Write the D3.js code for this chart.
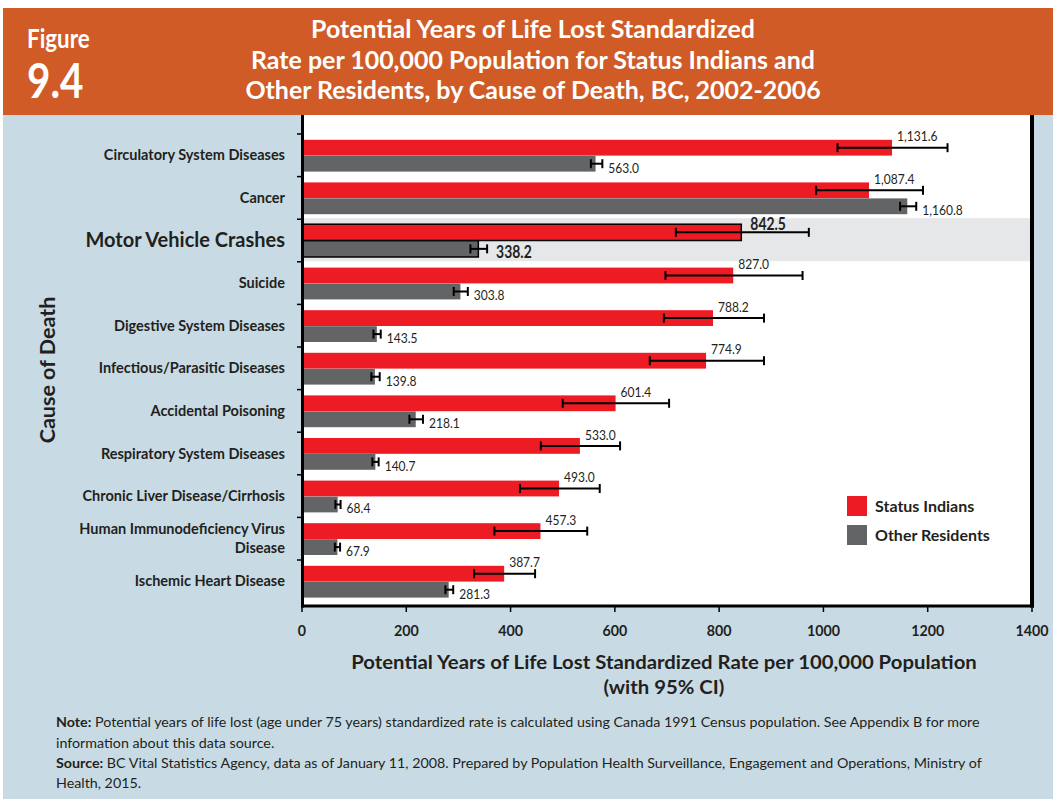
<!DOCTYPE html>
<html>
<head>
<meta charset="utf-8">
<script src="https://cdn.jsdelivr.net/npm/d3@7"></script>
<style>
  html, body { margin: 0; padding: 0; background: #ffffff; }
  svg { display: block; }
  text { font-family: Lato, "Open Sans", sans-serif; }
</style>
</head>
<body>
<svg id="chart" width="1053" height="799"></svg>
<script>
// Causes of death, top to bottom
const categories = [
  "Circulatory System Diseases",
  "Cancer",
  "Motor Vehicle Crashes",
  "Suicide",
  "Digestive System Diseases",
  "Infectious/Parasitic Diseases",
  "Accidental Poisoning",
  "Respiratory System Diseases",
  "Chronic Liver Disease/Cirrhosis",
  "Human Immunodeficiency Virus Disease",
  "Ischemic Heart Disease"
];
// Display lines for each category label
const categoryLines = [
  ["Circulatory System Diseases"],
  ["Cancer"],
  ["Motor Vehicle Crashes"],
  ["Suicide"],
  ["Digestive System Diseases"],
  ["Infectious/Parasitic Diseases"],
  ["Accidental Poisoning"],
  ["Respiratory System Diseases"],
  ["Chronic Liver Disease/Cirrhosis"],
  ["Human Immunodeficiency Virus", "Disease"],
  ["Ischemic Heart Disease"]
];
const highlighted = "Motor Vehicle Crashes";

// PYLL standardized rate per 100,000
const statusIndians   = [1131.6, 1087.4, 842.5, 827.0, 788.2, 774.9, 601.4, 533.0, 493.0, 457.3, 387.7];
const otherResidents  = [563.0, 1160.8, 338.2, 303.8, 143.5, 139.8, 218.1, 140.7, 68.4, 67.9, 281.3];
// 95% confidence intervals
const statusLow   = [1027, 986, 717, 697, 694, 667, 500, 458, 418, 369, 330];
const statusHigh  = [1238, 1191, 972, 960, 886, 886, 704, 610, 571, 547, 447];
const otherLow    = [554, 1147, 323, 291, 137, 133, 206, 135, 64, 63, 275];
const otherHigh   = [576, 1178, 355, 318, 151, 149, 232, 147, 74, 73, 290];

const seriesNames = ["Status Indians", "Other Residents"];
const xTicks = [0, 200, 400, 600, 800, 1000, 1200, 1400];

const RED = "#ED1C24", GREY = "#636466", INK = "#231F20";

const svg = d3.select("#chart");

// ---- page background and header band ----
svg.append("rect").attr("x", 3).attr("y", 115).attr("width", 1050).attr("height", 684).attr("fill", "#C8DBE4");
svg.append("rect").attr("x", 3).attr("y", 8).attr("width", 1050).attr("height", 107).attr("fill", "#D05B27");

function squeezed(g, x, y, sx, txt) {
  return g.append("text").attr("transform", `translate(${x},${y}) scale(${sx},1)`).text(txt);
}

const head = svg.append("g").attr("fill", "#ffffff").attr("font-weight", 700);
squeezed(head, 27, 48, 0.86, "Figure").attr("font-size", 26);
squeezed(head, 27, 98, 0.86, "9.4").attr("font-size", 47);
const titleLines = [
  "Potential Years of Life Lost Standardized",
  "Rate per 100,000 Population for Status Indians and",
  "Other Residents, by Cause of Death, BC, 2002-2006"
];
titleLines.forEach((t, i) => {
  squeezed(head, 533, 38 + i * 30.5, 1.04, t).attr("font-size", 24).attr("text-anchor", "middle");
});

// ---- scales ----
const x = d3.scaleLinear().domain([0, 1400]).range([302, 1032]);
const y = d3.scaleBand().domain(categories).range([134, 134 + 11 * 42.6]).padding(0);

// plot area
svg.append("rect").attr("x", 303).attr("y", 115).attr("width", 728).attr("height", 491).attr("fill", "#ffffff");
svg.append("rect").attr("x", 304).attr("y", y(highlighted) - 1).attr("width", 726).attr("height", 43).attr("fill", "#E6E7E8");

// ---- bars ----
const rows = categories.map((c, i) => ({
  cat: c, si: statusIndians[i], or: otherResidents[i],
  siLo: statusLow[i], siHi: statusHigh[i], orLo: otherLow[i], orHi: otherHigh[i],
  hl: c === highlighted
}));

const barG = svg.append("g");
const redTop = d => y(d.cat) + (d.hl ? 5 : 5.8);
const greyTop = d => y(d.cat) + (d.hl ? 21.5 : 21.8);
const barH = d => d.hl ? 16.3 : 15.8;

barG.selectAll(".si").data(rows).join("rect")
  .attr("x", x(0)).attr("y", redTop)
  .attr("width", d => x(d.si) - x(0)).attr("height", barH)
  .attr("fill", RED)
  .attr("stroke", d => d.hl ? "#000" : "none").attr("stroke-width", 1.5);
barG.selectAll(".or").data(rows).join("rect")
  .attr("x", x(0)).attr("y", greyTop)
  .attr("width", d => x(d.or) - x(0)).attr("height", barH)
  .attr("fill", GREY)
  .attr("stroke", d => d.hl ? "#000" : "none").attr("stroke-width", 1.5);

// ---- error bars (95% CI) ----
function errorBars(acc) {
  const g = svg.append("g").attr("stroke", "#000").attr("stroke-width", 2);
  rows.forEach(d => {
    const [lo, hi, cy] = acc(d);
    g.append("line").attr("x1", x(lo)).attr("x2", x(hi)).attr("y1", cy).attr("y2", cy);
    [lo, hi].forEach(v => g.append("line").attr("x1", x(v)).attr("x2", x(v)).attr("y1", cy - 4.5).attr("y2", cy + 4.5));
  });
}
errorBars(d => [d.siLo, d.siHi, redTop(d) + barH(d) / 2]);
errorBars(d => [d.orLo, d.orHi, greyTop(d) + barH(d) / 2]);

// ---- value labels ----
const fmt = d3.format(",.1f");
const labG = svg.append("g").attr("fill", INK);
rows.forEach(d => {
  squeezed(labG, x(d.si) + (d.hl ? 9 : 5), d.hl ? redTop(d) + 6 : redTop(d) + 1.5, d.hl ? 0.82 : 0.86, fmt(d.si))
    .attr("font-size", d.hl ? 17 : 14).attr("font-weight", d.hl ? 700 : 400);
  squeezed(labG, x(d.orHi) + (d.hl ? 9 : 6), greyTop(d) + barH(d) + 1, d.hl ? 0.82 : 0.86, fmt(d.or))
    .attr("font-size", d.hl ? 17 : 14).attr("font-weight", d.hl ? 700 : 400);
});

// ---- axes ----
const axG = svg.append("g").attr("stroke", "#000");
// y-axis tick marks at band boundaries
categories.forEach(c => {
  axG.append("line").attr("x1", 297).attr("x2", 302).attr("y1", y(c)).attr("y2", y(c)).attr("stroke-width", 1.5);
});
// x-axis ticks
xTicks.forEach(t => {
  axG.append("line").attr("x1", x(t)).attr("x2", x(t)).attr("y1", 606).attr("y2", 612).attr("stroke-width", 1.5);
});
axG.append("line").attr("x1", 302.5).attr("x2", 302.5).attr("y1", 115).attr("y2", 607.5).attr("stroke-width", 3);
axG.append("line").attr("x1", 1032).attr("x2", 1032).attr("y1", 115).attr("y2", 607.5).attr("stroke-width", 4);
axG.append("line").attr("x1", 301).attr("x2", 1034).attr("y1", 606).attr("y2", 606).attr("stroke-width", 3);

const tickG = svg.append("g").attr("fill", INK).attr("font-weight", 700);
xTicks.forEach(t => {
  squeezed(tickG, x(t), 636, 0.92, String(t)).attr("font-size", 15.5).attr("text-anchor", "middle");
});

// category labels
const catG = svg.append("g").attr("fill", INK).attr("font-weight", 700).attr("text-anchor", "end");
categories.forEach((c, i) => {
  const lines = categoryLines[i];
  const cy = y(c) + y.bandwidth() / 2;
  const hl = c === highlighted;
  lines.forEach((ln, j) => {
    const off = (j - (lines.length - 1) / 2) * 19;
    catG.append("text").attr("x", 285).attr("y", cy + off + (hl ? 6.5 : 5))
      .attr("font-size", hl ? 20 : 14.5).text(ln);
  });
});

// axis titles
svg.append("text").attr("transform", "translate(55,370) rotate(-90)")
  .attr("text-anchor", "middle").attr("font-weight", 700).attr("font-size", 21.5).attr("fill", INK)
  .text("Cause of Death");
const xt = svg.append("g").attr("fill", INK).attr("font-weight", 700);
squeezed(xt, 664, 669, 1.07, "Potential Years of Life Lost Standardized Rate per 100,000 Population").attr("font-size", 19).attr("text-anchor", "middle");
squeezed(xt, 664, 694, 1.07, "(with 95% CI)").attr("font-size", 19).attr("text-anchor", "middle");

// legend
const legendColors = [RED, GREY];
const lg = svg.append("g");
seriesNames.forEach((n, i) => {
  lg.append("rect").attr("x", 847).attr("y", 496 + i * 29).attr("width", 20).attr("height", 20).attr("fill", legendColors[i]);
  lg.append("text").attr("x", 875).attr("y", 512 + i * 29).attr("font-size", 16).attr("font-weight", 700).attr("fill", INK).text(n);
});

// notes
const notes = [
  [["Note:", 700], [" Potential years of life lost (age under 75 years) standardized rate is calculated using Canada 1991 Census population. See Appendix B for more", 400]],
  [["information about this data source.", 400]],
  [["Source:", 700], [" BC Vital Statistics Agency, data as of January 11, 2008. Prepared by Population Health Surveillance, Engagement and Operations, Ministry of", 400]],
  [["Health, 2015.", 400]]
];
const nb = [727, 748, 768, 788];
const ng = svg.append("g").attr("fill", INK);
notes.forEach((parts, i) => {
  const t = squeezed(ng, 56, nb[i], 1.02, null).attr("font-size", 14);
  parts.forEach(([s, w]) => t.append("tspan").attr("font-weight", w).text(s));
});
</script>
</body>
</html>
